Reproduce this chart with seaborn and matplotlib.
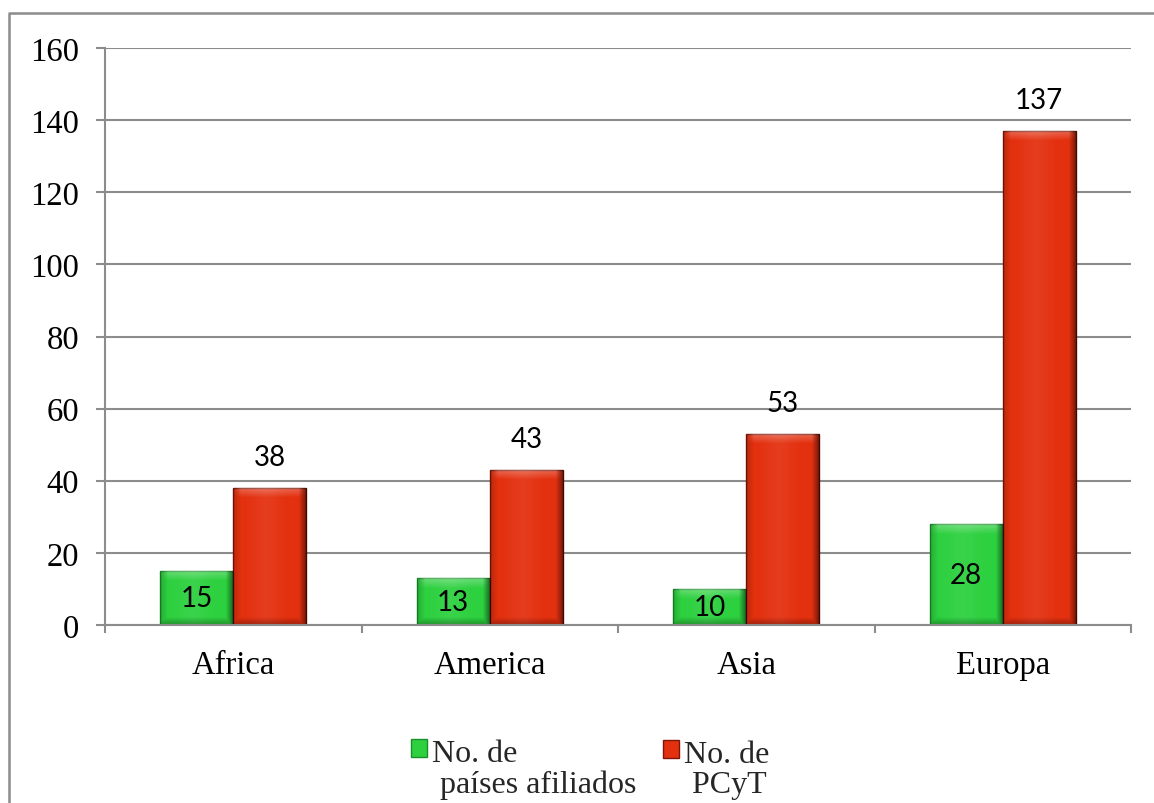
import numpy as np
import pandas as pd
import matplotlib
matplotlib.use("Agg")
import matplotlib.pyplot as plt
import seaborn as sns
from matplotlib.lines import Line2D
from matplotlib.ticker import FixedLocator

# Data
regions = ["Africa", "America", "Asia", "Europa"]
afiliados = [15, 13, 10, 28]
pcyt = [38, 43, 53, 137]
series_names = ["No. de\n países afiliados", "No. de\n PCyT"]
y_ticks = [0, 20, 40, 60, 80, 100, 120, 140, 160]

df = pd.DataFrame({
    "region": regions * 2,
    "valor": afiliados + pcyt,
    "serie": [series_names[0]] * len(regions) + [series_names[1]] * len(regions),
})

sns.set_theme(style="white")
plt.rcParams["font.family"] = ["Liberation Serif", "DejaVu Sans"]

GRAY = "#8c8c8c"
fills = ["#2dd03f", "#e3300f"]
edges = ["#1a8f2a", "#7d1608"]
TXT = 23.5

fig = plt.figure(figsize=(11.54, 8.04), dpi=100)
ax = fig.add_axes([105 / 1154, 178 / 804, 1026 / 1154, 577 / 804])

sns.barplot(data=df, x="region", y="valor", hue="serie", palette=fills,
            width=0.57, gap=0, saturation=1, ax=ax, legend=True)

ax.set_xlim(-0.5, len(regions) - 0.5)
ax.set_ylim(0, 160)
ax.set_yticks(y_ticks)
ax.set_xlabel("")
ax.set_ylabel("")
ax.set_axisbelow(True)
ax.yaxis.grid(True, color=GRAY, linewidth=1.5)
ax.xaxis.grid(False)

for s in ["top", "right"]:
    ax.spines[s].set_visible(False)
for s in ["left", "bottom"]:
    ax.spines[s].set_color(GRAY)
    ax.spines[s].set_linewidth(1.5)

ax.tick_params(axis="y", direction="out", length=6.5, width=1.5, color=GRAY,
               labelsize=TXT, pad=12, left=True)
ax.tick_params(axis="x", which="major", length=0, labelsize=TXT, pad=18)
ax.xaxis.set_minor_locator(FixedLocator(np.arange(-0.5, len(regions), 1.0)))
ax.tick_params(axis="x", which="minor", direction="out", length=6, width=1.5,
               color=GRAY, bottom=True)
for lab in ax.get_xticklabels() + ax.get_yticklabels():
    lab.set_color("black")

# Bevelled look for each bar: dark right/bottom rims, light top rim
fig.canvas.draw()
px_per_x = ax.bbox.width / (ax.get_xlim()[1] - ax.get_xlim()[0])
px_per_y = ax.bbox.height / (ax.get_ylim()[1] - ax.get_ylim()[0])


def bevel(w_px, h_px, rim=8.0):
    nx, ny = max(int(round(w_px)), 2), max(int(round(h_px)), 2)
    xx = (np.arange(nx) + 0.5)[None, :].repeat(ny, 0)
    yy = (np.arange(ny) + 0.5)[:, None].repeat(nx, 1)  # 0 at top row
    d_left, d_right = xx, nx - xx
    d_top, d_bot = yy, ny - yy
    ramp = lambda d, r=rim: np.clip(1 - d / r, 0, 1)
    dark = np.maximum.reduce([0.55 * ramp(d_right), 0.18 * ramp(d_left),
                              0.30 * ramp(d_bot)])
    light = 0.30 * ramp(d_top, rim * 1.3) * (1 - ramp(d_right)) * (1 - ramp(d_left))
    # subtle centre glow
    light = light + 0.06 * np.exp(-((xx / nx - 0.45) ** 2) / 0.04)
    dark_img = np.zeros((ny, nx, 4))
    dark_img[..., 3] = dark
    light_img = np.ones((ny, nx, 4))
    light_img[..., 3] = np.clip(light, 0, 1)
    return dark_img, light_img


for cont, ec in zip(ax.containers, edges):
    for bar in cont:
        bar.set_edgecolor(ec)
        bar.set_linewidth(1.0)
        x0, y0 = bar.get_x(), bar.get_y()
        w, h = bar.get_width(), bar.get_height()
        d_img, l_img = bevel(w * px_per_x, h * px_per_y)
        for img in (l_img, d_img):
            im = ax.imshow(img, extent=[x0, x0 + w, y0, y0 + h], aspect="auto",
                           origin="upper", zorder=bar.get_zorder() + 0.1,
                           interpolation="bilinear")
            im.set_clip_path(bar)

ax.set_xlim(-0.5, len(regions) - 0.5)
ax.set_ylim(0, 160)

# Value labels
ax.bar_label(ax.containers[0], labels=[str(v) for v in afiliados],
             label_type="center", fontsize=20, family=["Lato", "DejaVu Sans"],
             color="black", zorder=5)
ax.bar_label(ax.containers[1], labels=[str(v) for v in pcyt],
             label_type="edge", padding=13, fontsize=20,
             family=["Lato", "DejaVu Sans"], color="black", zorder=5)

# Legend
old = ax.get_legend()
handles, labels = ax.get_legend_handles_labels()
old.remove()
for hnd, ec in zip(handles, edges):
    hnd.set_edgecolor(ec)
leg = fig.legend(handles, labels, loc="upper left",
                 bbox_to_anchor=(411 / 1154, 1 - 740 / 804), ncol=2,
                 frameon=False, fontsize=23, handlelength=0.5,
                 handleheight=0.5, handletextpad=0.15, columnspacing=0.85,
                 borderpad=0, borderaxespad=0, labelspacing=0)
for col in leg._legend_handle_box.get_children():
    for item in col.get_children():
        item.align = "top"
for t in leg.get_texts():
    t.set_linespacing(1.05)

# Outer frame
fig.add_artist(Line2D([9 / 1154, 9 / 1154, 1.0], [0, 1 - 14 / 804, 1 - 14 / 804],
                      transform=fig.transFigure, color=GRAY, linewidth=1.8))

fig.savefig("out.png", dpi=100, facecolor="white")
